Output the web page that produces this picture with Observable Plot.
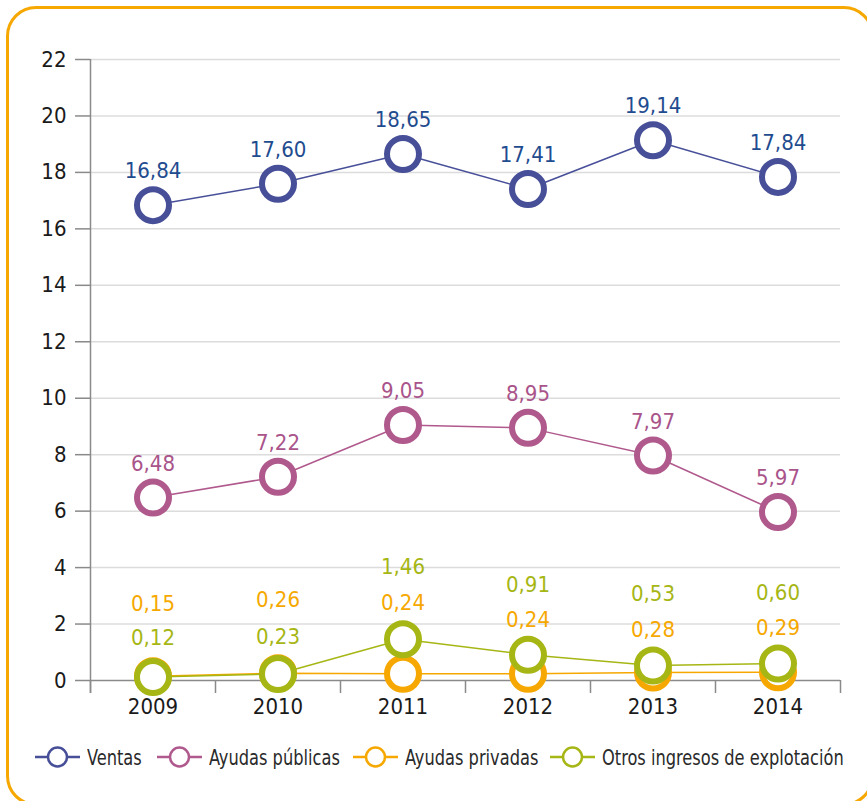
<!DOCTYPE html>
<html>
<head>
<meta charset="utf-8">
<script src="https://cdn.jsdelivr.net/npm/d3@7"></script>
<script src="https://cdn.jsdelivr.net/npm/@observablehq/plot@0.6"></script>
<style>
  body { margin: 0; background: #fff; }
  #wrap { position: relative; width: 867px; height: 801px; overflow: hidden;
          font-family: "DejaVu Sans Condensed", "Liberation Sans Narrow", "Roboto", sans-serif; }
  #frame { position: absolute; left: 6px; top: 6px; width: 868px; height: 800px;
           border: 3px solid #f6a800; border-radius: 30px; box-sizing: border-box; }
  #chart { position: absolute; left: 0; top: 0; }
  #legend { position: absolute; left: 0; top: 745px; width: 867px; height: 24px;
            font-size: 22px; color: #2a2a2a; white-space: nowrap; }
  .item { position: absolute; top: 0; height: 24px; display: flex; align-items: center; }
  .item svg { margin-right: 7px; flex: none; }
  .item span { display: inline-block; transform: scaleX(0.82); transform-origin: left center; }
</style>
</head>
<body>
<div id="wrap">
  <div id="frame"></div>
  <div id="chart"></div>
  <div id="legend"></div>
</div>
<script>
// ---- data ----
const years = [2009, 2010, 2011, 2012, 2013, 2014];
const ventas = [16.84, 17.60, 18.65, 17.41, 19.14, 17.84];
const ayudasPublicas = [6.48, 7.22, 9.05, 8.95, 7.97, 5.97];
const ayudasPrivadas = [0.15, 0.26, 0.24, 0.24, 0.28, 0.29];
const otrosIngresos = [0.12, 0.23, 1.46, 0.91, 0.53, 0.60];
const seriesNames = ["Ventas", "Ayudas públicas", "Ayudas privadas", "Otros ingresos de explotación"];
const yTicks = [0, 2, 4, 6, 8, 10, 12, 14, 16, 18, 20, 22];

// ---- styling / layout ----
const seriesValues = [ventas, ayudasPublicas, ayudasPrivadas, otrosIngresos];
const lineColors = ["#474f98", "#b0598d", "#f6a800", "#a6b614"];
const labelColors = ["#1f4c8f", "#a9548a", "#f6a800", "#a6b614"];
const labelOffsets = [
  [-34, -34, -34, -34, -34, -34],
  [-34, -34, -34, -34, -34, -34],
  [-72, -73, -71, -54, -43, -44],
  [-39, -37, -72, -70, -72, -71]
];
const legendX = [35, 157, 353, 550];
const FONT = '"DejaVu Sans Condensed", "Liberation Sans Narrow", "Roboto", sans-serif';

const fmt = v => d3.format(".2f")(v).replace(".", ",");
const boundaries = [years[0] - 0.5, ...years.map(y => y + 0.5)];

const marks = [
  Plot.ruleY(yTicks.filter(d => d > 0), {stroke: "#dcdcdc", strokeWidth: 1.5}),
  Plot.ruleY([0], {stroke: "#8a8a8a", strokeWidth: 1.5}),
  Plot.ruleX([boundaries[0]], {y1: yTicks[yTicks.length - 1], y2: 0, insetBottom: -13, stroke: "#8a8a8a", strokeWidth: 1.5}),
  Plot.axisY({ticks: yTicks, tickSize: 15, tickPadding: 9, stroke: "#8a8a8a", strokeWidth: 1.5, fill: "#1a1a1a", label: null, fontSize: 22}),
  Plot.axisX(boundaries, {tickSize: 13, tickFormat: () => "", stroke: "#8a8a8a", strokeWidth: 1.5, label: null}),
  Plot.axisX(years, {tickSize: 0, tickPadding: 18, tickFormat: d => String(d), fill: "#1a1a1a", label: null, fontSize: 22})
];

seriesValues.forEach((vals, s) => {
  const rows = years.map((year, i) => ({year, value: vals[i]}));
  marks.push(Plot.line(rows, {x: "year", y: "value", stroke: lineColors[s], strokeWidth: 1.5}));
  marks.push(Plot.dot(rows, {x: "year", y: "value", r: 16, stroke: lineColors[s], strokeWidth: 6, fill: "white"}));
});
seriesValues.forEach((vals, s) => {
  years.forEach((year, i) => {
    marks.push(Plot.text([{year, value: vals[i], label: fmt(vals[i])}],
      {x: "year", y: "value", text: "label", dy: labelOffsets[s][i], fill: labelColors[s], fontSize: 22}));
  });
});

const chart = Plot.plot({
  width: 867,
  height: 720,
  marginLeft: 90,
  marginRight: 27,
  marginTop: 59,
  marginBottom: 40,
  style: {fontFamily: FONT, fontSize: "22px", background: "transparent", overflow: "visible"},
  x: {type: "linear", domain: [boundaries[0], boundaries[boundaries.length - 1]]},
  y: {domain: [0, yTicks[yTicks.length - 1]]},
  marks
});
document.getElementById("chart").appendChild(chart);

// ---- legend ----
const legend = d3.select("#legend");
seriesNames.forEach((name, s) => {
  const item = legend.append("div").attr("class", "item").style("left", legendX[s] + "px");
  const svg = item.append("svg").attr("width", 45).attr("height", 24);
  svg.append("line").attr("x1", 0).attr("x2", 45).attr("y1", 12).attr("y2", 12)
     .attr("stroke", lineColors[s]).attr("stroke-width", 2.5);
  svg.append("circle").attr("cx", 22.5).attr("cy", 12).attr("r", 9.5)
     .attr("fill", "white").attr("stroke", lineColors[s]).attr("stroke-width", 2.5);
  item.append("span").text(name);
});
</script>
</body>
</html>
